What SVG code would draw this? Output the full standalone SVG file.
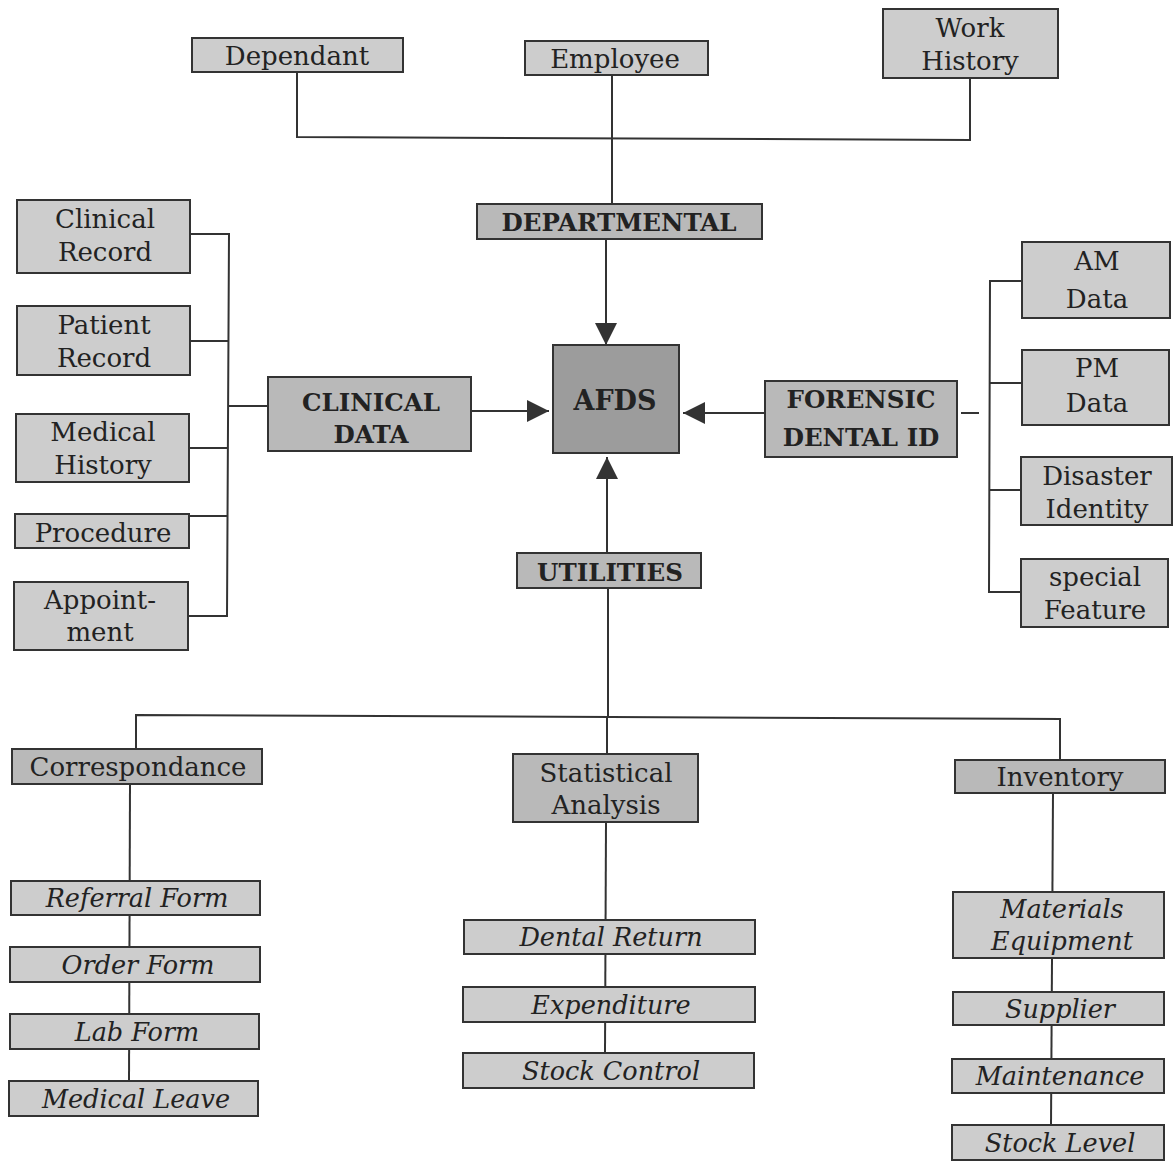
<svg xmlns="http://www.w3.org/2000/svg" width="1173" height="1161" viewBox="0 0 1173 1161">
<style>
.bx{fill:#cdcdcd;stroke:#333;stroke-width:2}
.bd{fill:#b9b9b9;stroke:#333;stroke-width:2}
.bc{fill:#9c9c9c;stroke:#333;stroke-width:2}
text{font-family:"DejaVu Serif","Liberation Serif",serif;font-size:26px;fill:#222;text-anchor:middle}
.b{font-weight:bold;font-size:24.5px}
.i{font-style:italic;font-size:25.5px}
.ln{stroke:#333;stroke-width:2;fill:none}
</style>
<defs>
<marker id="ah" markerUnits="userSpaceOnUse" markerWidth="24" markerHeight="24" refX="22" refY="11" orient="auto">
<path d="M0,0 L22,11 L0,22 Z" fill="#333"/>
</marker>
</defs>
<rect width="1173" height="1161" fill="#fff"/>
<g id="connectors">
<polyline class="ln" points="297,72 297,137 970,140 970,78"/>
<line class="ln" x1="612" y1="75" x2="612" y2="204"/>
<line class="ln" x1="606" y1="239" x2="606" y2="345" marker-end="url(#ah)"/>
<line class="ln" x1="471" y1="411" x2="549" y2="411" marker-end="url(#ah)"/>
<line class="ln" x1="765" y1="413" x2="683" y2="413" marker-end="url(#ah)"/>
<line class="ln" x1="607" y1="553" x2="607" y2="457" marker-end="url(#ah)"/>
<line class="ln" x1="961" y1="413" x2="979" y2="413"/>
<polyline class="ln" points="190,234 229,234 227,616 188,616"/>
<line class="ln" x1="190" y1="341" x2="229" y2="341"/>
<line class="ln" x1="189" y1="448" x2="228" y2="448"/>
<line class="ln" x1="189" y1="516" x2="228" y2="516"/>
<line class="ln" x1="229" y1="406" x2="268" y2="406"/>
<polyline class="ln" points="1022,281 990,281 989,592 1021,592"/>
<line class="ln" x1="990" y1="383" x2="1022" y2="383"/>
<line class="ln" x1="989" y1="490" x2="1021" y2="490"/>
<line class="ln" x1="608" y1="588" x2="608" y2="716"/>
<polyline class="ln" points="136,749 136,715 1060,719 1060,760"/>
<line class="ln" x1="607" y1="718" x2="607" y2="754"/>
<line class="ln" x1="130" y1="784" x2="129" y2="1081"/>
<line class="ln" x1="606" y1="822" x2="605" y2="1053"/>
<line class="ln" x1="1053" y1="793" x2="1051" y2="1125"/>
</g>
<g id="n-dependant"><rect class="bx" x="192" y="38" width="211" height="34"/><text x="297" y="65">Dependant</text></g>
<g id="n-employee"><rect class="bx" x="525" y="41" width="183" height="34"/><text x="615" y="68">Employee</text></g>
<g id="n-workhistory"><rect class="bx" x="883" y="9" width="175" height="69"/><text x="970" y="37">Work</text><text x="970" y="70">History</text></g>
<g id="n-departmental"><rect class="bd" x="477" y="204" width="285" height="35"/><text class="b" x="619" y="231">DEPARTMENTAL</text></g>
<g id="n-afds"><rect class="bc" x="553" y="345" width="126" height="108"/><text class="b" x="615" y="410" style="font-size:27px">AFDS</text></g>
<g id="n-clinicaldata"><rect class="bd" x="268" y="377" width="203" height="74"/><text class="b" x="371" y="411">CLINICAL</text><text class="b" x="371" y="443">DATA</text></g>
<g id="n-forensic"><rect class="bd" x="765" y="381" width="192" height="76"/><text class="b" x="861" y="408">FORENSIC</text><text class="b" x="861" y="446">DENTAL ID</text></g>
<g id="n-utilities"><rect class="bd" x="517" y="553" width="184" height="35"/><text class="b" x="610" y="581">UTILITIES</text></g>
<g id="n-clinicalrecord"><rect class="bx" x="17" y="200" width="173" height="73"/><text x="105" y="228">Clinical</text><text x="105" y="261">Record</text></g>
<g id="n-patientrecord"><rect class="bx" x="17" y="306" width="173" height="69"/><text x="104" y="334">Patient</text><text x="104" y="367">Record</text></g>
<g id="n-medicalhistory"><rect class="bx" x="16" y="414" width="173" height="68"/><text x="103" y="441">Medical</text><text x="103" y="474">History</text></g>
<g id="n-procedure"><rect class="bx" x="15" y="514" width="174" height="34"/><text x="103" y="542">Procedure</text></g>
<g id="n-appointment"><rect class="bx" x="14" y="582" width="174" height="68"/><text x="100" y="609">Appoint-</text><text x="100" y="641">ment</text></g>
<g id="n-amdata"><rect class="bx" x="1022" y="242" width="148" height="76"/><text x="1097" y="270">AM</text><text x="1097" y="308">Data</text></g>
<g id="n-pmdata"><rect class="bx" x="1022" y="350" width="147" height="75"/><text x="1097" y="377">PM</text><text x="1097" y="412">Data</text></g>
<g id="n-disaster"><rect class="bx" x="1021" y="457" width="151" height="68"/><text x="1097" y="485">Disaster</text><text x="1097" y="518">Identity</text></g>
<g id="n-special"><rect class="bx" x="1021" y="559" width="147" height="68"/><text x="1095" y="586">special</text><text x="1095" y="619">Feature</text></g>
<g id="n-correspondance"><rect class="bd" x="12" y="749" width="250" height="35"/><text x="138" y="776">Correspondance</text></g>
<g id="n-statistical"><rect class="bd" x="513" y="754" width="185" height="68"/><text x="606" y="782">Statistical</text><text x="606" y="814">Analysis</text></g>
<g id="n-inventory"><rect class="bd" x="955" y="760" width="210" height="33"/><text x="1060" y="786">Inventory</text></g>
<g id="n-referral"><rect class="bx" x="11" y="881" width="249" height="34"/><text class="i" x="137" y="907">Referral Form</text></g>
<g id="n-order"><rect class="bx" x="10" y="947" width="250" height="35"/><text class="i" x="138" y="974">Order Form</text></g>
<g id="n-lab"><rect class="bx" x="10" y="1014" width="249" height="35"/><text class="i" x="137" y="1041">Lab Form</text></g>
<g id="n-medleave"><rect class="bx" x="9" y="1081" width="249" height="35"/><text class="i" x="136" y="1108">Medical Leave</text></g>
<g id="n-dental"><rect class="bx" x="464" y="920" width="291" height="34"/><text class="i" x="611" y="946">Dental Return</text></g>
<g id="n-expenditure"><rect class="bx" x="463" y="987" width="292" height="35"/><text class="i" x="611" y="1014">Expenditure</text></g>
<g id="n-stockcontrol"><rect class="bx" x="463" y="1053" width="291" height="35"/><text class="i" x="611" y="1080">Stock Control</text></g>
<g id="n-materials"><rect class="bx" x="953" y="892" width="211" height="66"/><text class="i" x="1062" y="918">Materials</text><text class="i" x="1062" y="950">Equipment</text></g>
<g id="n-supplier"><rect class="bx" x="953" y="992" width="211" height="33"/><text class="i" x="1060" y="1018">Supplier</text></g>
<g id="n-maintenance"><rect class="bx" x="952" y="1059" width="212" height="34"/><text class="i" x="1060" y="1085">Maintenance</text></g>
<g id="n-stocklevel"><rect class="bx" x="952" y="1125" width="212" height="35"/><text class="i" x="1060" y="1152">Stock Level</text></g>
</svg>
